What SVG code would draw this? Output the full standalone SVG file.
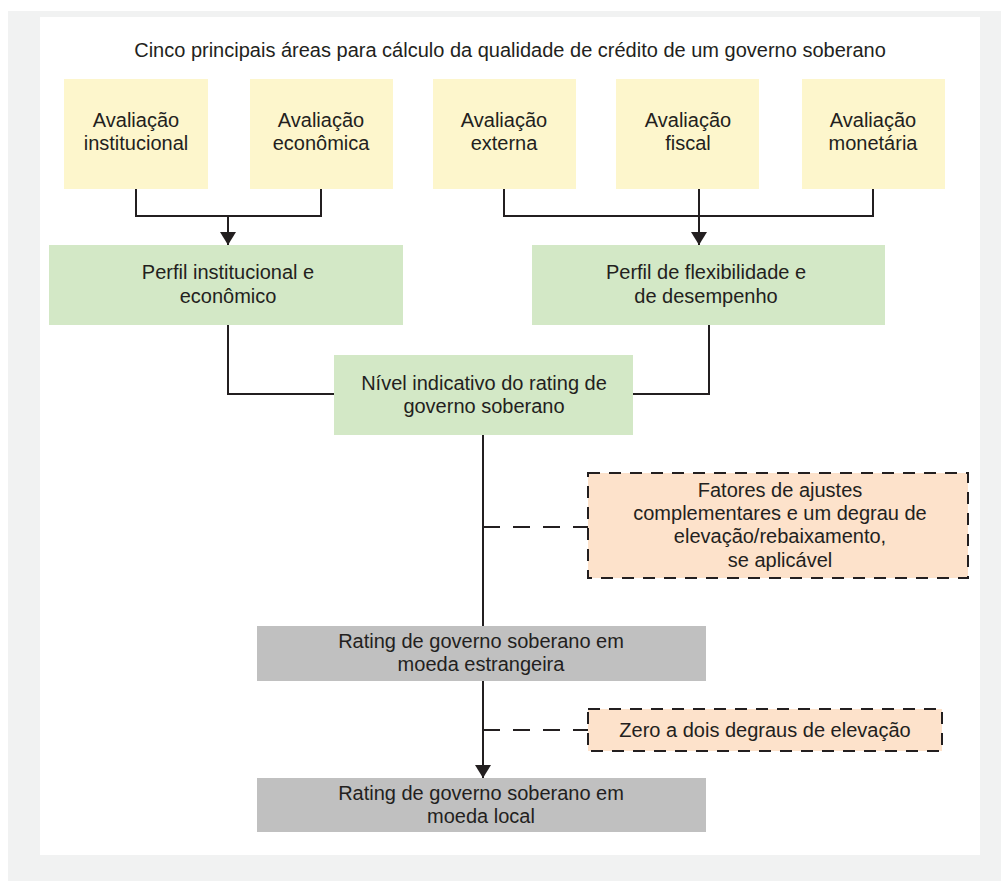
<svg xmlns="http://www.w3.org/2000/svg" width="1001" height="881" viewBox="0 0 1001 881">
<style>
text{font-family:"Liberation Sans",Arial,sans-serif;font-size:20px;fill:#231f20;text-anchor:middle}
.y{fill:#fdf6cc}
.g{fill:#d3e8c6}
.p{fill:#fde2cb;stroke:#231f20;stroke-width:2;stroke-dasharray:12 9}
.gr{fill:#c0c0c0}
.ln{fill:none;stroke:#231f20;stroke-width:2}
.ds{fill:none;stroke:#231f20;stroke-width:2;stroke-dasharray:17 13}
</style>
<defs>
<marker id="ah" viewBox="0 0 13 16" refX="13" refY="8" markerWidth="13" markerHeight="16" markerUnits="userSpaceOnUse" orient="auto">
<path d="M0,0 L13,8 L0,16 Z" fill="#231f20"/>
</marker>
</defs>
<rect x="8" y="11" width="993" height="870" fill="#f1f2f2"/>
<rect x="40" y="17" width="940" height="838" fill="#ffffff"/>
<text x="510" y="57">Cinco principais áreas para cálculo da qualidade de crédito de um governo soberano</text>
<g id="connectors">
<path class="ln" d="M136,189 V216 H321 V189"/>
<path class="ln" d="M228,216 V245" marker-end="url(#ah)"/>
<path class="ln" d="M504,189 V216 H873 V189"/>
<path class="ln" d="M699,189 V245" marker-end="url(#ah)"/>
<path class="ln" d="M228,325 V394 H334"/>
<path class="ln" d="M709,325 V394 H633"/>
<path class="ln" d="M483,435 V626"/>
<path class="ds" d="M483,527 H588"/>
<path class="ln" d="M483,681 V778" marker-end="url(#ah)"/>
<path class="ds" d="M483,730 H588"/>
</g>
<g id="n1"><rect class="y" x="64" y="79" width="144" height="110"/><text x="136" y="127">Avaliação</text><text x="136" y="150">institucional</text></g>
<g id="n2"><rect class="y" x="250" y="79" width="143" height="110"/><text x="321" y="127">Avaliação</text><text x="321" y="150">econômica</text></g>
<g id="n3"><rect class="y" x="433" y="79" width="143" height="110"/><text x="504" y="127">Avaliação</text><text x="504" y="150">externa</text></g>
<g id="n4"><rect class="y" x="616" y="79" width="143" height="110"/><text x="688" y="127">Avaliação</text><text x="688" y="150">fiscal</text></g>
<g id="n5"><rect class="y" x="802" y="79" width="143" height="110"/><text x="873" y="127">Avaliação</text><text x="873" y="150">monetária</text></g>
<g id="n6"><rect class="g" x="49" y="245" width="354" height="80"/><text x="228" y="279">Perfil institucional e</text><text x="228" y="303">econômico</text></g>
<g id="n7"><rect class="g" x="532" y="245" width="353" height="80"/><text x="706" y="279">Perfil de flexibilidade e</text><text x="706" y="303">de desempenho</text></g>
<g id="n8"><rect class="g" x="334" y="355" width="299" height="80"/><text x="484" y="390">Nível indicativo do rating de</text><text x="484" y="413">governo soberano</text></g>
<g id="n9"><rect class="p" x="588" y="473" width="380" height="105"/><text x="780" y="497">Fatores de ajustes</text><text x="780" y="520">complementares e um degrau de</text><text x="780" y="543">elevação/rebaixamento,</text><text x="780" y="567">se aplicável</text></g>
<g id="n10"><rect class="gr" x="257" y="626" width="449" height="55"/><text x="481" y="648">Rating de governo soberano em</text><text x="481" y="671">moeda estrangeira</text></g>
<g id="n11"><rect class="p" x="588" y="709" width="354" height="42"/><text x="765" y="737">Zero a dois degraus de elevação</text></g>
<g id="n12"><rect class="gr" x="257" y="778" width="449" height="54"/><text x="481" y="800">Rating de governo soberano em</text><text x="481" y="823">moeda local</text></g>
</svg>
